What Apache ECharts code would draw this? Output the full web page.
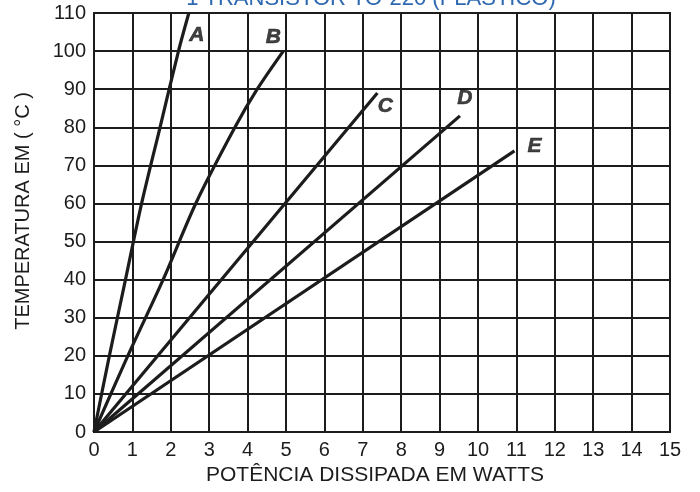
<!DOCTYPE html>
<html>
<head>
<meta charset="utf-8">
<script src="https://cdn.jsdelivr.net/npm/echarts@6/dist/echarts.min.js"></script>
<style>html,body{margin:0;padding:0;background:#fff}#c{width:700px;height:492px}</style>
</head>
<body>
<div id="c"></div>
<script>
const curveNames = ['A', 'B', 'C', 'D', 'E'];
const powerA = [0, 0.4, 0.82, 1.24, 1.72, 2.2, 2.47];
const tempA  = [0, 20, 40, 60, 80, 100, 110];
const powerB = [0, 0.88, 1.8, 2.65, 3.67, 4.25, 4.93];
const tempB  = [0, 20, 40, 60, 80, 90, 100];
const powerC = [0, 7.38];
const tempC  = [0, 89];
const powerD = [0, 9.53];
const tempD  = [0, 83];
const powerE = [0, 10.95];
const tempE  = [0, 73.8];
const xTicks = [0,1,2,3,4,5,6,7,8,9,10,11,12,13,14,15];
const yTicks = [0,10,20,30,40,50,60,70,80,90,100,110];

const powers = [powerA, powerB, powerC, powerD, powerE];
const temps = [tempA, tempB, tempC, tempD, tempE];
const labelOffsets = [[8, 22], [-10, -14], [8, 13], [5, -18], [20, -5]];
const ink = '#1c1c1c';
const font = '"Liberation Sans", Arial, sans-serif';

const lineSeries = curveNames.map((n, i) => ({
  name: n,
  type: 'line',
  data: powers[i].map((p, k) => [p, temps[i][k]]),
  showSymbol: false,
  smooth: i < 2 ? 0.3 : false,
  lineStyle: { color: ink, width: 3.2 },
  clip: false,
  z: 5
}));

const labelSeries = curveNames.map((n, i) => ({
  type: 'scatter',
  data: [[powers[i][powers[i].length - 1], temps[i][temps[i].length - 1]]],
  symbolSize: 0,
  label: {
    show: true,
    position: 'inside',
    offset: labelOffsets[i],
    formatter: n,
    fontFamily: font,
    fontWeight: 'bold',
    fontStyle: 'italic',
    fontSize: 21,
    color: '#111',
    textBorderColor: '#111',
    textBorderWidth: 0.6
  },
  z: 6
}));

const chart = echarts.init(document.getElementById('c'), null, { renderer: 'canvas' });
chart.setOption({
  animation: false,
  title: {
    text: '1 TRANSISTOR TO-220 (PLÁSTICO)',
    left: 366,
    textAlign: 'center',
    top: -17,
    textStyle: { fontFamily: font, fontSize: 22, fontWeight: 'normal', color: '#2d68b0' }
  },
  grid: { left: 94, right: 30, top: 13, bottom: 60, show: true, borderColor: ink, borderWidth: 2 },
  xAxis: {
    type: 'value', min: 0, max: 15, interval: 1,
    name: 'POTÊNCIA DISSIPADA EM WATTS',
    nameLocation: 'middle', nameGap: 33,
    nameTextStyle: { fontFamily: font, fontSize: 21, color: ink, padding: [0, 14, 0, 0] },
    axisLine: { show: true, lineStyle: { color: ink, width: 2 } },
    axisTick: { show: false },
    axisLabel: { fontFamily: font, fontSize: 20, color: ink, margin: 8,
      formatter: v => xTicks.includes(v) ? String(v) : '' },
    splitLine: { show: true, lineStyle: { color: ink, width: 2 } }
  },
  yAxis: {
    type: 'value', min: 0, max: 110, interval: 10,
    name: 'TEMPERATURA EM ( °C )',
    nameLocation: 'middle', nameGap: 61, nameRotate: 90,
    nameTextStyle: { fontFamily: font, fontSize: 20, color: ink, padding: [0, 0, 0, 23] },
    axisLine: { show: true, lineStyle: { color: ink, width: 2 } },
    axisTick: { show: false },
    axisLabel: { fontFamily: font, fontSize: 20, color: ink, margin: 8,
      formatter: v => yTicks.includes(v) ? String(v) : '' },
    splitLine: { show: true, lineStyle: { color: ink, width: 2 } }
  },
  series: lineSeries.concat(labelSeries)
});
</script>
</body>
</html>
